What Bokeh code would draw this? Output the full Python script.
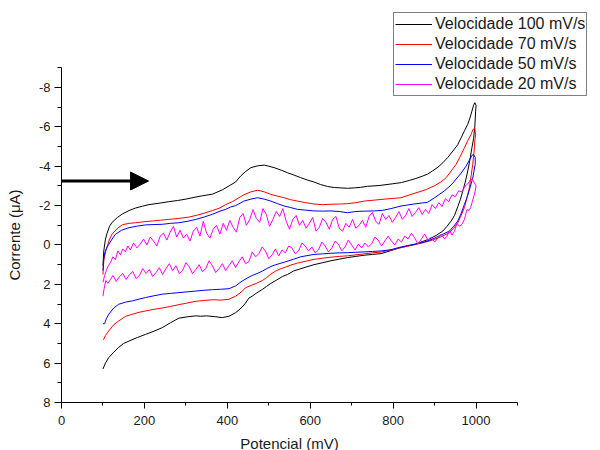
from bokeh.plotting import figure
from bokeh.models import Range1d, FixedTicker, Legend, LegendItem, Arrow, NormalHead
from bokeh.embed import file_html
from bokeh.resources import INLINE

# ---------------- data ----------------
# 100 mV/s : forward scan then reverse scan
pot_100 = [100, 102, 106, 110, 116, 122, 135, 147, 163, 179, 195, 211, 235, 259, 280, 300, 320, 340,
           364, 388, 408, 420, 432, 445, 457, 473, 489, 500, 513, 530, 545, 561, 577, 593, 609, 625,
           642, 658, 674, 690, 706, 722, 738, 766, 799, 820, 839, 855, 871, 883, 895, 908, 920, 932,
           944, 956, 964, 972, 980, 986, 990, 994, 997, 1000,
           999, 997, 994, 990, 985, 980, 974, 968, 962, 956, 948, 940, 930, 920, 905, 887, 870, 855,
           835, 815, 795, 771, 750, 730, 710, 690, 670, 650, 630, 609, 590, 575, 560, 545, 533, 519,
           505, 495, 485, 470, 460, 452, 444, 436, 428, 420, 404, 388, 370, 350, 336, 324, 303, 283,
           263, 243, 223, 203, 183, 163, 150, 138, 126, 114, 106, 100]
cur_100 = [1.05, 0.3, -0.3, -0.6, -0.95, -1.15, -1.4, -1.58, -1.75, -1.88, -1.97, -2.05, -2.12, -2.2,
           -2.26, -2.33, -2.42, -2.5, -2.58, -2.8, -3.05, -3.2, -3.5, -3.75, -3.93, -4.02, -4.06, -4.0,
           -3.93, -3.8, -3.67, -3.55, -3.42, -3.3, -3.2, -3.07, -2.97, -2.92, -2.9, -2.88, -2.9, -2.93,
           -2.98, -3.02, -3.11, -3.17, -3.28, -3.38, -3.5, -3.6, -3.76, -3.95, -4.18, -4.45, -4.77,
           -5.1, -5.45, -5.8, -6.13, -6.5, -6.8, -7.1, -7.23, -7.1,
           -6.8, -6.0, -5.4, -4.94, -4.3, -3.76, -3.2, -2.74, -2.3, -1.95, -1.5, -1.22, -0.95, -0.71,
           -0.5, -0.3, -0.17, -0.05, 0.05, 0.15, 0.28, 0.44, 0.48, 0.52, 0.58, 0.64, 0.72, 0.8, 0.9,
           1.0, 1.12, 1.22, 1.32, 1.5, 1.6, 1.78, 1.95, 2.1, 2.25, 2.45, 2.6, 2.7, 2.95, 3.15, 3.3,
           3.44, 3.62, 3.69, 3.64, 3.6, 3.62, 3.6, 3.65, 3.72, 3.95, 4.2, 4.38, 4.54, 4.7, 4.88, 5.0,
           5.2, 5.45, 5.72, 6.0, 6.3]

# 70 mV/s
pot_70 = [100, 102, 106, 110, 116, 122, 135, 147, 163, 179, 199, 219, 239, 259, 283, 308, 328, 348,
          364, 380, 396, 412, 428, 440, 457, 473, 489, 505, 521, 537, 553, 569, 589, 609, 630, 650,
          670, 690, 710, 730, 755, 775, 795, 819, 840, 860, 880, 899, 915, 928, 940, 952, 962, 972,
          980, 988, 993, 997,
          999, 997, 995, 992, 988, 984, 978, 972, 964, 956, 946, 936, 916, 895, 875, 855, 835, 815,
          795, 771, 750, 730, 710, 690, 670, 650, 630, 609, 590, 569, 553, 541, 529, 517, 505, 495,
          485, 470, 458, 444, 436, 428, 420, 404, 384, 364, 344, 324, 303, 283, 263, 243, 223, 203,
          187, 171, 155, 138, 126, 114, 106, 102, 100]
cur_70 = [1.5, 0.8, 0.35, 0.1, -0.3, -0.55, -0.85, -1.03, -1.1, -1.13, -1.18, -1.22, -1.26, -1.3,
          -1.35, -1.42, -1.52, -1.64, -1.75, -1.86, -2.05, -2.2, -2.4, -2.55, -2.7, -2.78, -2.7,
          -2.57, -2.48, -2.4, -2.3, -2.23, -2.15, -2.08, -2.05, -2.07, -2.08, -2.1, -2.15, -2.23,
          -2.28, -2.32, -2.36, -2.4, -2.55, -2.68, -2.82, -3.0, -3.2, -3.42, -3.76, -4.1, -4.5,
          -4.94, -5.3, -5.62, -5.88, -5.92,
          -5.6, -5.28, -4.7, -4.1, -3.5, -2.91, -2.4, -1.9, -1.5, -1.13, -0.85, -0.63, -0.42, -0.25,
          -0.13, -0.03, 0.06, 0.15, 0.25, 0.36, 0.4, 0.45, 0.5, 0.55, 0.58, 0.62, 0.67, 0.73, 0.82,
          0.92, 1.02, 1.12, 1.2, 1.32, 1.48, 1.65, 1.8, 1.95, 2.05, 2.17, 2.35, 2.48, 2.6, 2.76,
          2.8, 2.78, 2.82, 2.86, 2.95, 3.03, 3.12, 3.2, 3.27, 3.35, 3.42, 3.52, 3.62, 3.86, 4.05,
          4.37, 4.6, 4.79, 4.8]

# 50 mV/s
pot_50 = [100, 102, 106, 110, 114, 122, 130, 145, 163, 183, 203, 223, 243, 263, 283, 303, 324, 344,
          364, 380, 396, 408, 420, 440, 457, 473, 489, 505, 521, 537, 553, 569, 589, 609, 630, 650,
          670, 690, 710, 730, 755, 775, 795, 819, 850, 883, 900, 923, 940, 952, 964, 976, 985, 990,
          994, 998,
          998, 995, 992, 988, 984, 978, 972, 964, 956, 946, 936, 915, 895, 875, 855, 835, 815, 795,
          771, 750, 730, 710, 690, 670, 650, 630, 609, 590, 577, 560, 541, 525, 510, 497, 485, 472,
          460, 448, 436, 420, 404, 384, 364, 344, 324, 303, 283, 263, 243, 223, 203, 187, 171, 155,
          138, 126, 114, 108, 104, 100]
cur_50 = [1.3, 0.64, 0.3, 0.1, -0.03, -0.3, -0.54, -0.75, -0.88, -0.96, -1.02, -1.04, -1.05, -1.1,
          -1.13, -1.2, -1.3, -1.42, -1.56, -1.7, -1.81, -1.93, -2.0, -2.23, -2.33, -2.4, -2.33,
          -2.23, -2.1, -1.98, -1.9, -1.81, -1.77, -1.73, -1.72, -1.73, -1.7, -1.64, -1.7, -1.72,
          -1.73, -1.76, -1.85, -1.98, -2.08, -2.17, -2.4, -2.74, -3.05, -3.35, -3.65, -4.01, -4.35,
          -4.55, -4.6, -4.45,
          -4.1, -3.76, -3.4, -3.1, -2.8, -2.4, -2.07, -1.6, -1.22, -0.95, -0.71, -0.5, -0.3, -0.15,
          -0.05, 0.03, 0.12, 0.24, 0.3, 0.33, 0.35, 0.37, 0.39, 0.4, 0.42, 0.45, 0.48, 0.55, 0.6,
          0.72, 0.85, 0.95, 1.05, 1.18, 1.32, 1.45, 1.55, 1.68, 1.83, 2.08, 2.22, 2.25, 2.27, 2.3,
          2.34, 2.38, 2.42, 2.46, 2.5, 2.58, 2.67, 2.75, 2.84, 2.9, 3.01, 3.2, 3.52, 3.75, 4.0, 4.0]

# 20 mV/s (noisy trace), (potential, current) pairs: forward scan then reverse scan
scan_20 = [
    (100, 1.9), (104, 1.55), (108, 1.3), (113, 1.05), (118, 0.9), (124, 0.6), (130, 0.75), (136, 0.3),
    (142, 0.5), (148, 0.2), (154, 0.35), (160, 0.05), (166, 0.25), (174, -0.1), (182, 0.15), (190, -0.05),
    (198, -0.3), (206, 0.0), (214, -0.4), (222, -0.2), (230, 0.05), (238, -0.45), (246, -0.6), (254, -0.25),
    (262, -0.65), (270, -0.95), (278, -0.4), (286, -0.75), (294, -0.35), (302, -0.55), (310, -0.2),
    (318, -0.7), (326, -0.9), (334, -0.45), (342, -1.2), (350, -0.6), (358, -0.35), (366, -0.8),
    (374, -1.0), (382, -0.55), (390, -1.1), (398, -0.75), (406, -1.25), (414, -0.9), (422, -0.65),
    (430, -1.4), (438, -1.6), (446, -1.0), (454, -1.3), (462, -1.8), (470, -1.35), (478, -1.15),
    (486, -1.85), (494, -1.55), (502, -0.95), (510, -1.3), (518, -1.7), (526, -1.45), (534, -1.85),
    (542, -1.2), (550, -0.8), (558, -1.3), (566, -1.5), (574, -1.0), (582, -1.25), (590, -0.85),
    (598, -1.1), (606, -1.4), (614, -0.7), (622, -0.9), (630, -1.35), (638, -1.15), (646, -0.8),
    (654, -1.3), (662, -1.45), (670, -0.85), (678, -0.7), (686, -1.1), (694, -0.9), (702, -1.3),
    (710, -0.85), (718, -1.0), (726, -1.25), (734, -0.9), (742, -1.45), (750, -1.65), (758, -1.2),
    (766, -1.05), (774, -1.6), (782, -1.3), (790, -1.5), (798, -1.15), (806, -1.4), (814, -1.7),
    (822, -1.3), (830, -1.5), (838, -1.85), (846, -1.45), (854, -1.65), (862, -1.9), (870, -1.55),
    (878, -1.8), (886, -1.6), (894, -2.05), (902, -1.85), (910, -2.15), (918, -1.95), (926, -2.35),
    (934, -2.2), (942, -2.55), (950, -2.45), (958, -2.75), (966, -2.7), (974, -3.0), (980, -3.1),
    (986, -3.3), (991, -3.35), (996, -3.15), (1000, -3.0),
    (998, -2.75), (995, -2.5), (991, -2.2), (987, -1.9), (983, -1.75), (978, -1.8), (972, -1.3),
    (966, -1.05), (960, -0.95), (954, -1.1), (948, -0.7), (942, -0.5), (936, -0.75), (930, -0.45),
    (924, -0.3), (916, -0.55), (908, -0.35), (900, -0.15), (892, -0.4), (884, -0.25), (876, -0.55),
    (868, -0.3), (860, -0.05), (852, -0.35), (844, -0.6), (836, -0.3), (828, -0.45), (820, -0.15),
    (812, -0.3), (804, 0.0), (796, -0.2), (788, -0.45), (780, -0.2), (772, 0.05), (764, -0.25),
    (756, -0.4), (748, -0.05), (740, 0.1), (732, -0.1), (724, 0.15), (716, -0.05), (708, 0.25),
    (700, 0.0), (692, -0.25), (684, 0.1), (676, 0.3), (668, -0.05), (660, -0.2), (652, 0.15),
    (644, 0.35), (636, 0.05), (628, -0.15), (620, 0.25), (612, 0.4), (604, 0.1), (596, 0.3),
    (588, 0.05), (580, -0.1), (572, 0.3), (564, 0.45), (556, 0.15), (548, 0.05), (540, 0.4),
    (532, 0.25), (524, 0.55), (516, 0.2), (508, 0.5), (500, 0.7), (492, 0.3), (484, 0.1), (476, 0.45),
    (468, 0.6), (460, 0.35), (452, 0.85), (444, 0.95), (436, 0.6), (428, 0.85), (420, 1.15), (412, 0.8),
    (404, 1.05), (396, 1.3), (388, 0.95), (380, 1.2), (372, 1.4), (364, 1.05), (356, 0.8), (348, 1.2),
    (340, 1.35), (332, 1.0), (324, 1.25), (316, 1.45), (308, 1.1), (300, 0.9), (292, 1.3), (284, 1.45),
    (276, 1.05), (268, 1.3), (260, 0.95), (252, 1.2), (244, 1.5), (236, 1.15), (228, 1.4), (220, 1.6),
    (212, 1.25), (204, 1.45), (196, 1.2), (188, 1.55), (180, 1.7), (172, 1.35), (164, 1.5), (156, 1.75),
    (148, 1.45), (140, 1.6), (132, 1.85), (124, 1.55), (118, 1.75), (112, 1.95), (107, 1.8), (103, 2.2),
    (100, 2.6),
]
pot_20 = [a for a, b in scan_20]
cur_20 = [b for a, b in scan_20]

series_labels = ["Velocidade 100 mV/s", "Velocidade 70 mV/s", "Velocidade 50 mV/s", "Velocidade 20 mV/s"]
series_colors = ["#000000", "#ff0000", "#0000ff", "#ff00ff"]

x_major = [0, 200, 400, 600, 800, 1000]
x_minor = [100, 300, 500, 700, 900, 1100]
x_axis_span = (0, 1100)
y_major = [-8, -6, -4, -2, 0, 2, 4, 6, 8]
y_minor = [-9, -7, -5, -3, -1, 1, 3, 5, 7]
y_axis_span = (-9, 8)

arrow_x = [0, 210]
arrow_y = -3.25

FONT = "Liberation Sans"
TEXT_COLOR = "#1a1a1a"

# The frame fills the whole figure; the two axes are pinned at x=0 and y=8 with
# fixed_location, so the legend box beyond the axes (as in the reference) is drawable.
p = figure(width=600, height=450,
           x_range=Range1d(-147.15, 1300.2), y_range=Range1d(10.44, -12.42),
           output_backend="svg", toolbar_location=None,
           min_border_left=0, min_border_right=0, min_border_top=0, min_border_bottom=0)
p.outline_line_color = None
p.grid.visible = False
p.background_fill_color = "white"
p.border_fill_color = "white"

xa = p.xaxis[0]
xa.fixed_location = y_axis_span[1]
xa.bounds = x_axis_span
xa.ticker = FixedTicker(ticks=x_major, minor_ticks=x_minor)
xa.axis_label = "Potencial (mV)"
xa.axis_label_text_font = FONT
xa.axis_label_text_font_size = "15px"
xa.axis_label_text_font_style = "normal"
xa.axis_label_text_color = TEXT_COLOR
xa.axis_label_standoff = 6
xa.major_label_text_font = FONT
xa.major_label_text_font_size = "13px"
xa.major_label_text_color = TEXT_COLOR
xa.major_label_standoff = 8
xa.major_tick_in = 0
xa.major_tick_out = 6
xa.minor_tick_in = 0
xa.minor_tick_out = 3
xa.axis_line_color = "black"
xa.major_tick_line_color = "black"
xa.minor_tick_line_color = "black"

ya = p.yaxis[0]
ya.fixed_location = x_axis_span[0]
ya.bounds = y_axis_span
ya.ticker = FixedTicker(ticks=y_major, minor_ticks=y_minor)
ya.major_label_overrides = {v: str(v) for v in y_major}
ya.axis_label = "Corrente (μA)"
ya.axis_label_text_font = FONT
ya.axis_label_text_font_size = "15px"
ya.axis_label_text_font_style = "normal"
ya.axis_label_text_color = TEXT_COLOR
ya.axis_label_standoff = 13
ya.major_label_text_font = FONT
ya.major_label_text_font_size = "13px"
ya.major_label_text_color = TEXT_COLOR
ya.major_label_standoff = 4
ya.major_tick_in = 0
ya.major_tick_out = 7
ya.minor_tick_in = 0
ya.minor_tick_out = 4
ya.axis_line_color = "black"
ya.major_tick_line_color = "black"
ya.minor_tick_line_color = "black"

renderers = []
for xs, ys, col in [(pot_100, cur_100, series_colors[0]), (pot_70, cur_70, series_colors[1]),
                    (pot_50, cur_50, series_colors[2]), (pot_20, cur_20, series_colors[3])]:
    renderers.append(p.line(xs, ys, line_color=col, line_width=1))

p.add_layout(Arrow(end=NormalHead(size=18, fill_color="black", line_color="black"),
                   x_start=arrow_x[0], y_start=arrow_y, x_end=arrow_x[1], y_end=arrow_y,
                   line_width=3, line_color="black"))

legend = Legend(items=[LegendItem(label=lab, renderers=[r]) for lab, r in zip(series_labels, renderers)],
                location=(393, 354), margin=0, padding=1, spacing=0,
                glyph_width=37, glyph_height=20, label_height=20, label_standoff=3,
                label_text_font=FONT, label_text_font_size="16px", label_text_color=TEXT_COLOR,
                border_line_color="black", border_line_width=1,
                background_fill_color="white", background_fill_alpha=1)
p.add_layout(legend, "center")

open("out.html", "w").write(file_html(p, INLINE))
